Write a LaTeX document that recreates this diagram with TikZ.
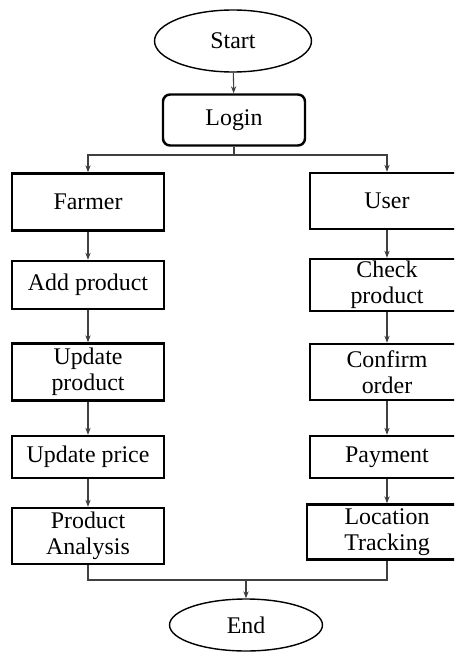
\documentclass[tikz,border=0pt]{standalone}
\usepackage{fontspec}
\setmainfont{Liberation Serif}
\usetikzlibrary{shapes.geometric,arrows.meta}
\begin{document}
\begin{tikzpicture}[x=0.02cm,y=-0.02cm,
    box/.style={draw,line width=1.4pt,inner sep=0pt,align=center,
      font=\fontsize{13.6}{15}\selectfont},
    term/.style={draw,ellipse,line width=0.8pt,inner sep=0pt,
      font=\fontsize{13.6}{15}\selectfont},
    link/.style={draw=black!75,line width=0.6pt},
    flow/.style={link,-{Stealth[length=4pt,width=3pt]}}]
  \useasboundingbox (0,0) rectangle (454,652);
  \clip (0,0) rectangle (454,652);
  % terminals
  \node[term,minimum width=3.14cm,minimum height=1.24cm] (start) at (233,41) {Start};
  \node[term,minimum width=3.06cm,minimum height=1.04cm] (end) at (246,625) {End};
  \node[box,rounded corners=4pt,minimum width=2.84cm,minimum height=1.02cm] (login) at (234,120) {Login};
  % farmer side
  \node[box,minimum width=3.04cm,minimum height=1.14cm] (farmer) at (88,202) {Farmer};
  \node[box,minimum width=3.04cm,minimum height=0.96cm] (addp) at (88,285) {Add product};
  \node[box,minimum width=3.04cm,minimum height=1.14cm] (updp) at (88,372) {Update\\product};
  \node[box,minimum width=3.04cm,minimum height=0.84cm] (price) at (88,457) {Update price};
  \node[box,minimum width=3.04cm,minimum height=1.12cm] (analysis) at (88,536) {Product\\Analysis};
  % user side
  \node[box,minimum width=3.08cm,minimum height=1.12cm] (user) at (387,201) {User};
  \node[box,minimum width=3.08cm,minimum height=1.04cm] (check) at (387,285) {Check\\product};
  \node[box,minimum width=3.08cm,minimum height=1.12cm] (confirm) at (387,372) {Confirm\\order};
  \node[box,minimum width=3.08cm,minimum height=0.84cm] (payment) at (387,457) {Payment};
  \node[box,minimum width=3.2cm,minimum height=1.1cm] (location) at (387,532) {Location\\Tracking};
  \coordinate (split) at (234,155);
  \coordinate (join) at (246,580);
  \begin{scope}
    \draw[flow] (start) -- (login);
    \draw[link] (login) -- (split);
    \draw[flow] (split) -| (farmer);
    \draw[flow] (split) -| (user);
    \draw[flow] (farmer) -- (addp);
    \draw[flow] (addp) -- (updp);
    \draw[flow] (updp) -- (price);
    \draw[flow] (price) -- (analysis);
    \draw[flow] (user) -- (check);
    \draw[flow] (check) -- (confirm);
    \draw[flow] (confirm) -- (payment);
    \draw[flow] (payment) -- (location);
    \draw[link] (analysis) |- (join);
    \draw[link] (location) |- (join);
    \draw[flow] (join) -- (end);
  \end{scope}
\end{tikzpicture}
\end{document}
